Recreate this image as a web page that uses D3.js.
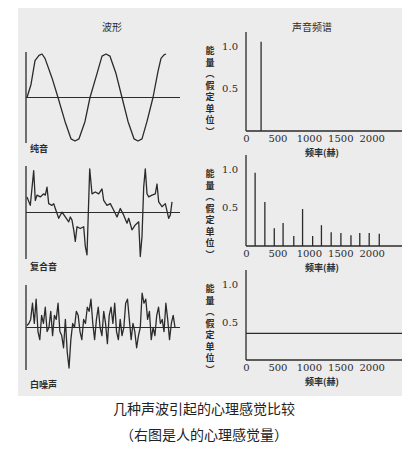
<!DOCTYPE html>
<html><head><meta charset="utf-8">
<script src="https://cdn.jsdelivr.net/npm/d3@7"></script>
<style>body{margin:0;background:#fff}</style>
</head><body>
<div id="chart"></div>
<script>
// spectrum data
var freqTicks = [0, 500, 1000, 1500, 2000]
var energyTicks = [0.5, 1.0]
var pureFreq = [240]
var pureEnergy = [1.05]
var complexFreq = [145, 300, 450, 590, 760, 900, 1060, 1200, 1355, 1510, 1670, 1810, 1960, 2120]
var complexEnergy = [0.95, 0.57, 0.23, 0.30, 0.13, 0.48, 0.13, 0.27, 0.18, 0.17, 0.14, 0.17, 0.17, 0.16]
var noiseLevel = 0.35

// waveform data (time, amplitude)
var pureT = [], pureA = []
var pureKnots = [[0,0],[4,0.3],[8,0.85],[12,0.97],[15,1],[18,0.9],[25,0.45],[31,0],[38,-0.55],[44,-0.95],[48,-1],[52,-0.95],[58,-0.55],[63,0],[70,0.55],[75,0.95],[79,1],[83,0.95],[89,0.55],[95,0],[101,-0.55],[107,-0.95],[111,-1],[115,-0.95],[120,-0.55],[126,0],[131,0.6],[134,0.9],[137,0.98],[139,1]]
pureKnots.forEach(function(k){pureT.push(k[0]); pureA.push(k[1])})

var complexT = [0,3.3,6.7,8.3,10,13.3,16.7,18.3,20,21.7,25,26.7,28.3,31.7,35,38.3,41.7,43.3,45,46.7,48.3,50,53.3,56.7,58.3,60,62.7,65,68.3,71.7,75,76.7,80,83.3,86.7,90,93.3,96.7,100,101.7,105,108.3,111.7,113.3,115,116.7,118.3,120,121.7,125,128.3,130,131.7,135,138.3,141.7,143.3,145]
var complexA = [0.35,0.16,0.94,0.27,0.39,0.35,0.42,0.39,0.57,0.2,0.16,0.2,0.09,-0.13,0.01,-0.1,-0.21,-0.1,-0.17,-0.39,-0.65,-0.32,-0.36,-0.32,-0.76,-0.95,0.98,0.42,0.46,0.42,0.53,0.27,0.16,0.2,0.05,-0.1,0.09,-0.06,-0.24,-0.13,-0.39,-0.28,-0.21,-0.99,-0.54,0.57,0.98,0.42,0.35,0.39,0.42,0.64,0.24,0.13,0.2,-0.13,-0.06,0.24]

var noiseA = [0.05,0.1,0.2,0.6,0.1,0.7,-0.1,-0.3,0.3,0.1,0.5,-0.1,0.0,0.4,-0.2,0.3,0.2,0.6,-0.1,-0.2,-0.5,0.2,-0.6,-1.0,-0.3,0.1,0.0,0.4,0.3,-0.1,-0.3,0.2,0.1,0.5,0.4,0.7,0.1,-0.3,0.2,0.5,0.0,-0.2,0.4,0.1,-0.4,0.3,0.5,0.1,0.6,-0.1,-0.3,0.2,-0.2,0.0,0.6,0.7,0.2,-0.3,0.1,-0.1,-0.5,-0.2,0.0,0.85,0.6,0.7,0.2,0.4,-0.3,0.0,-0.2,0.3,0.5,0.1,0.2,-0.1,0.6,0.2,-0.3,0.1,0.3,0.0]

var w = 408, h = 450
var ink = "#2b2b2b"
var serif = "'DejaVu Serif','Liberation Serif',serif"
var cjk = "'Noto Sans CJK SC',sans-serif"

var svg = d3.select("#chart").append("svg").attr("width", w).attr("height", h)

svg.append("rect").attr("x", 18).attr("y", 8).attr("width", 384).attr("height", 388).attr("fill", "#ececec")

svg.append("text").text("波形").attr("x", 112).attr("y", 31).attr("text-anchor", "middle")
  .attr("font-family", cjk).attr("font-size", 10).attr("fill", ink)
svg.append("text").text("声音频谱").attr("x", 312).attr("y", 31).attr("text-anchor", "middle")
  .attr("font-family", cjk).attr("font-size", 10).attr("fill", ink)

function drawWave(t, a, top, bottom, base, label, labelY, endX){
  var x = d3.scaleLinear().domain(d3.extent(t)).range([27, endX])
  var y = d3.scaleLinear().domain([-1, 1]).range([bottom, top])
  var g = svg.append("g")
  g.append("line").attr("x1", 26).attr("x2", 26).attr("y1", top - 2).attr("y2", bottom + 2)
    .attr("stroke", ink).attr("stroke-width", 1.3)
  g.append("line").attr("x1", 26).attr("x2", 180).attr("y1", y(0)).attr("y2", y(0))
    .attr("stroke", ink).attr("stroke-width", 1.2)
  var line = d3.line().x(function(d, i){return x(t[i])}).y(function(d){return y(d)})
  g.append("path").datum(a).attr("d", line).attr("fill", "none")
    .attr("stroke", ink).attr("stroke-width", 1.3).attr("stroke-linejoin", "round")
  g.append("text").text(label).attr("x", 30).attr("y", labelY)
    .attr("font-family", cjk).attr("font-weight", "bold").attr("font-size", 9).attr("fill", ink)
}

drawWave(pureT, pureA, 54, 141, 97, "纯音", 152, 166)
drawWave(complexT, complexA, 168, 257, 212, "复合音", 270, 172)
drawWave(d3.range(noiseA.length), noiseA, 287, 368, 327, "白噪声", 388, 175)

function drawSpectrum(top, bottom, freqs, energy, flat){
  var x = d3.scaleLinear().domain([0, 2450]).range([246, 400])
  var y = d3.scaleLinear().domain([0, 1]).range([bottom, top + 14])
  var g = svg.append("g")
  g.append("line").attr("x1", 246).attr("x2", 246).attr("y1", top).attr("y2", bottom).attr("stroke", ink).attr("stroke-width", 1.3)
  g.append("line").attr("x1", 246).attr("x2", 402).attr("y1", bottom).attr("y2", bottom).attr("stroke", ink).attr("stroke-width", 1.3)
  var ya = g.append("g").attr("transform", "translate(246,0)")
    .call(d3.axisLeft(y).tickValues(energyTicks).tickFormat(d3.format(".1f")).tickSize(0).tickPadding(8))
  var xa = g.append("g").attr("transform", "translate(0," + bottom + ")")
    .call(d3.axisBottom(x).tickValues(freqTicks).tickFormat(d3.format("d")).tickSize(0).tickPadding(4))
  ;[ya, xa].forEach(function(a){
    a.select(".domain").remove()
    a.attr("font-family", serif)
    a.selectAll("text").attr("font-size", 10).attr("fill", ink)
  })
  if (flat) {
    g.append("line").attr("x1", 246).attr("x2", 402).attr("y1", y(flat)).attr("y2", y(flat))
      .attr("stroke", ink).attr("stroke-width", 1.3)
  } else {
    g.selectAll("line.bar").data(freqs).enter().append("line").attr("class", "bar")
      .attr("x1", function(d){return x(d)}).attr("x2", function(d){return x(d)})
      .attr("y1", bottom).attr("y2", function(d, i){return y(energy[i])})
      .attr("stroke", ink).attr("stroke-width", 1.3)
  }
  g.append("text").text("频率(赫)").attr("x", 322).attr("y", bottom + 25).attr("text-anchor", "middle")
    .attr("font-family", cjk).attr("font-weight", "bold").attr("font-size", 9).attr("fill", ink)
  var lab = g.append("text").attr("font-family", cjk).attr("font-size", 9).attr("fill", ink).attr("font-weight", "bold")
  "能量︵假定单位︶".split("").forEach(function(c, i){
    lab.append("tspan").text(c).attr("x", 210).attr("y", top + 22 + i * 11.5).attr("text-anchor", "middle")
  })
}

drawSpectrum(32, 131, pureFreq, pureEnergy)
drawSpectrum(155, 246, complexFreq, complexEnergy)
drawSpectrum(270, 360, [], [], noiseLevel)

svg.append("text").text("几种声波引起的心理感觉比较").attr("x", 204).attr("y", 414).attr("text-anchor", "middle")
  .attr("font-family", cjk).attr("font-size", 14).attr("fill", "#222")
svg.append("text").text("（右图是人的心理感觉量）").attr("x", 204).attr("y", 440).attr("text-anchor", "middle")
  .attr("font-family", cjk).attr("font-size", 14).attr("fill", "#222")
</script>
</body></html>
